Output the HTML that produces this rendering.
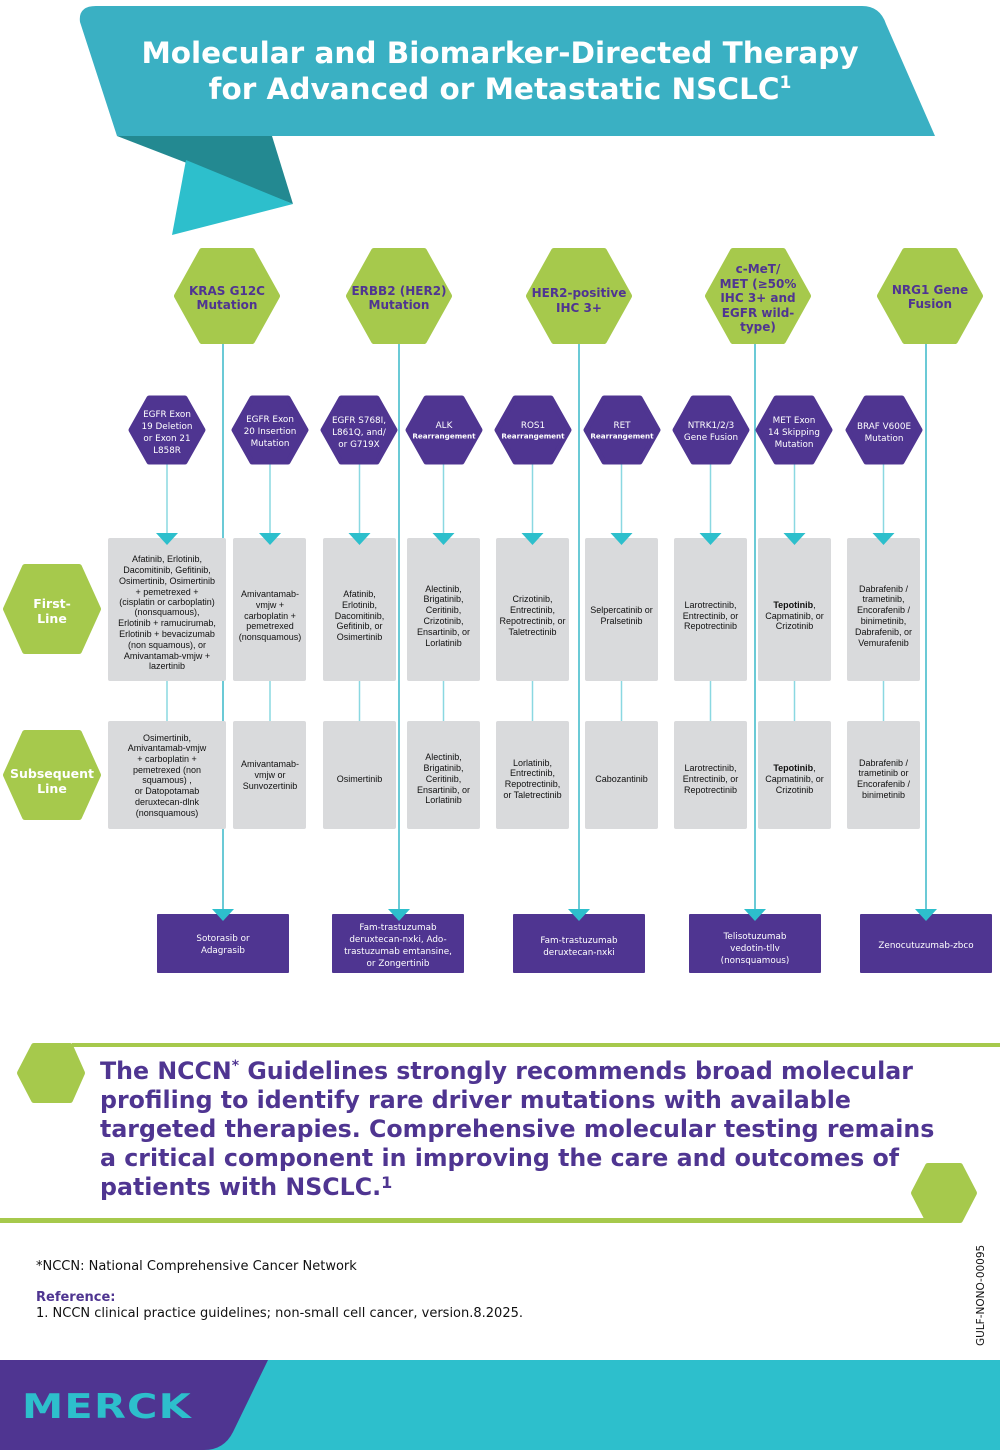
<!DOCTYPE html>
<html><head><meta charset="utf-8"><style>
html,body{margin:0;padding:0;background:#fff;}
svg{display:block;}
.bx{font-family:"Liberation Sans",sans-serif;font-size:9px;fill:#111;text-anchor:middle;}
.ph{font-family:"DejaVu Sans",sans-serif;font-size:8.8px;fill:#fff;text-anchor:middle;}
.phs{font-family:"DejaVu Sans",sans-serif;font-size:7.2px;fill:#fff;text-anchor:middle;font-weight:bold;}
.gh{font-family:"DejaVu Sans",sans-serif;font-size:12px;fill:#4f3591;text-anchor:middle;font-weight:bold;}
.pb{font-family:"DejaVu Sans",sans-serif;font-size:8.8px;fill:#fff;text-anchor:middle;}
.lh{font-family:"DejaVu Sans",sans-serif;font-size:12.5px;fill:#fff;text-anchor:middle;font-weight:bold;}
</style></head><body>
<svg width="1000" height="1450" viewBox="0 0 1000 1450" xmlns="http://www.w3.org/2000/svg">
<path d="M80,22 Q78,6 96,6 L862,6 Q880,6 886,24 L935,136 L117,136 Z" fill="#3ab0c3"/>
<polygon points="117,136 272,136 293,204" fill="#238991"/>
<polygon points="186,160 293,204 172,235" fill="#2dbfcc"/>
<text x="500" y="63" font-family="DejaVu Sans,sans-serif" font-weight="bold" font-size="29.5" fill="#fff" text-anchor="middle">Molecular and Biomarker-Directed Therapy</text>
<text x="500" y="99" font-family="DejaVu Sans,sans-serif" font-weight="bold" font-size="29.5" fill="#fff" text-anchor="middle">for Advanced or Metastatic NSCLC<tspan font-size="17" dy="-11">1</tspan></text>

<g stroke="#3ab8c8" stroke-width="1.5">
<line x1="223" y1="340" x2="223" y2="914"/>
<line x1="399" y1="340" x2="399" y2="914"/>
<line x1="579" y1="340" x2="579" y2="914"/>
<line x1="755" y1="340" x2="755" y2="914"/>
<line x1="926" y1="340" x2="926" y2="914"/>
</g>
<g stroke="#8ad8e1" stroke-width="1.5">
<line x1="167" y1="462" x2="167" y2="721"/>
<line x1="270" y1="462" x2="270" y2="721"/>
<line x1="359.5" y1="462" x2="359.5" y2="721"/>
<line x1="443.5" y1="462" x2="443.5" y2="721"/>
<line x1="532.5" y1="462" x2="532.5" y2="721"/>
<line x1="621.5" y1="462" x2="621.5" y2="721"/>
<line x1="710.5" y1="462" x2="710.5" y2="721"/>
<line x1="794.5" y1="462" x2="794.5" y2="721"/>
<line x1="883.5" y1="462" x2="883.5" y2="721"/>
</g>

<g fill="#a6c94c" stroke="#a6c94c" stroke-width="6" stroke-linejoin="round">
<polygon points="177,296 202,251 252,251 277,296 252,341 202,341"/>
<polygon points="349,296 374,251 424,251 449,296 424,341 374,341"/>
<polygon points="529,296 554,251 604,251 629,296 604,341 554,341"/>
<polygon points="708,296 733,251 783,251 808,296 783,341 733,341"/>
<polygon points="880,296 905,251 955,251 980,296 955,341 905,341"/>
<polygon points="6,609 25,567 79,567 98,609 79,651 25,651"/>
<polygon points="6,775 25,733 79,733 98,775 79,817 25,817"/>
<polygon points="20,1073 34,1046 70,1046 82,1073 70,1100 34,1100"/>
<polygon points="914,1193 928,1166 960,1166 974,1193 960,1220 928,1220"/>
</g>
<text class="gh"><tspan x="227" y="295">KRAS G12C</tspan><tspan x="227" y="309">Mutation</tspan></text>
<text class="gh"><tspan x="399" y="295">ERBB2 (HER2)</tspan><tspan x="399" y="309">Mutation</tspan></text>
<text class="gh"><tspan x="579" y="297">HER2-positive</tspan><tspan x="579" y="312">IHC 3+</tspan></text>
<text class="gh"><tspan x="758" y="273">c-MeT/</tspan><tspan x="758" y="288">MET (≥50%</tspan><tspan x="758" y="302">IHC 3+ and</tspan><tspan x="758" y="317">EGFR wild-</tspan><tspan x="758" y="331">type)</tspan></text>
<text class="gh"><tspan x="930" y="294">NRG1 Gene</tspan><tspan x="930" y="308">Fusion</tspan></text>
<text class="lh"><tspan x="52" y="608">First-</tspan><tspan x="52" y="623">Line</tspan></text>
<text class="lh"><tspan x="52" y="778">Subsequent</tspan><tspan x="52" y="793">Line</tspan></text>

<g fill="#4f3591" stroke="#4f3591" stroke-width="5" stroke-linejoin="round">
<polygon points="131,430 149,398 185,398 203,430 185,462 149,462"/>
<polygon points="234,430 252,398 288,398 306,430 288,462 252,462"/>
<polygon points="323,430 341,398 377,398 395,430 377,462 341,462"/>
<polygon points="408,430 426,398 462,398 480,430 462,462 426,462"/>
<polygon points="497,430 515,398 551,398 569,430 551,462 515,462"/>
<polygon points="586,430 604,398 640,398 658,430 640,462 604,462"/>
<polygon points="675,430 693,398 729,398 747,430 729,462 693,462"/>
<polygon points="758,430 776,398 812,398 830,430 812,462 776,462"/>
<polygon points="848,430 866,398 902,398 920,430 902,462 866,462"/>
</g>
<text class="ph"><tspan x="167" y="417">EGFR Exon</tspan><tspan x="167" y="429">19 Deletion</tspan><tspan x="167" y="441">or Exon 21</tspan><tspan x="167" y="453">L858R</tspan></text>
<text class="ph"><tspan x="270" y="422">EGFR Exon</tspan><tspan x="270" y="434">20 Insertion</tspan><tspan x="270" y="446">Mutation</tspan></text>
<text class="ph"><tspan x="359" y="423">EGFR S768I,</tspan><tspan x="359" y="435">L861Q, and/</tspan><tspan x="359" y="447">or G719X</tspan></text>
<text class="ph" x="444" y="428">ALK</text><text class="phs" x="444" y="438.5">Rearrangement</text>
<text class="ph" x="533" y="428">ROS1</text><text class="phs" x="533" y="438.5">Rearrangement</text>
<text class="ph" x="622" y="428">RET</text><text class="phs" x="622" y="438.5">Rearrangement</text>
<text class="ph"><tspan x="711" y="428">NTRK1/2/3</tspan><tspan x="711" y="440">Gene Fusion</tspan></text>
<text class="ph"><tspan x="794" y="423">MET Exon</tspan><tspan x="794" y="435">14 Skipping</tspan><tspan x="794" y="447">Mutation</tspan></text>
<text class="ph"><tspan x="884" y="429">BRAF V600E</tspan><tspan x="884" y="441">Mutation</tspan></text>

<g fill="#d9dadc">
<rect x="108" y="538" width="118" height="143" rx="2"/>
<rect x="233" y="538" width="73" height="143" rx="2"/>
<rect x="323" y="538" width="73" height="143" rx="2"/>
<rect x="407" y="538" width="73" height="143" rx="2"/>
<rect x="496" y="538" width="73" height="143" rx="2"/>
<rect x="585" y="538" width="73" height="143" rx="2"/>
<rect x="674" y="538" width="73" height="143" rx="2"/>
<rect x="758" y="538" width="73" height="143" rx="2"/>
<rect x="847" y="538" width="73" height="143" rx="2"/>
<rect x="108" y="721" width="118" height="108" rx="2"/>
<rect x="233" y="721" width="73" height="108" rx="2"/>
<rect x="323" y="721" width="73" height="108" rx="2"/>
<rect x="407" y="721" width="73" height="108" rx="2"/>
<rect x="496" y="721" width="73" height="108" rx="2"/>
<rect x="585" y="721" width="73" height="108" rx="2"/>
<rect x="674" y="721" width="73" height="108" rx="2"/>
<rect x="758" y="721" width="73" height="108" rx="2"/>
<rect x="847" y="721" width="73" height="108" rx="2"/>
</g>
<g fill="#2dbfcc">
<polygon points="156,533 178,533 167,545"/>
<polygon points="259,533 281,533 270,545"/>
<polygon points="348.5,533 370.5,533 359.5,545"/>
<polygon points="432.5,533 454.5,533 443.5,545"/>
<polygon points="521.5,533 543.5,533 532.5,545"/>
<polygon points="610.5,533 632.5,533 621.5,545"/>
<polygon points="699.5,533 721.5,533 710.5,545"/>
<polygon points="783.5,533 805.5,533 794.5,545"/>
<polygon points="872.5,533 894.5,533 883.5,545"/>
</g>

<text class="bx"><tspan x="167" y="562">Afatinib, Erlotinib,</tspan><tspan x="167" y="573">Dacomitinib, Gefitinib,</tspan><tspan x="167" y="584">Osimertinib, Osimertinib</tspan><tspan x="167" y="595">+ pemetrexed +</tspan><tspan x="167" y="605">(cisplatin or carboplatin)</tspan><tspan x="167" y="615">(nonsquamous),</tspan><tspan x="167" y="626">Erlotinib + ramucirumab,</tspan><tspan x="167" y="637">Erlotinib +  bevacizumab</tspan><tspan x="167" y="648">(non squamous), or</tspan><tspan x="167" y="659">Amivantamab-vmjw +</tspan><tspan x="167" y="669">lazertinib</tspan></text>
<text class="bx"><tspan x="270" y="597">Amivantamab-</tspan><tspan x="270" y="608">vmjw +</tspan><tspan x="270" y="619">carboplatin +</tspan><tspan x="270" y="629">pemetrexed</tspan><tspan x="270" y="640">(nonsquamous)</tspan></text>
<text class="bx"><tspan x="359.5" y="597">Afatinib,</tspan><tspan x="359.5" y="608">Erlotinib,</tspan><tspan x="359.5" y="619">Dacomitinib,</tspan><tspan x="359.5" y="629">Gefitinib, or</tspan><tspan x="359.5" y="640">Osimertinib</tspan></text>
<text class="bx"><tspan x="443.5" y="592">Alectinib,</tspan><tspan x="443.5" y="602">Brigatinib,</tspan><tspan x="443.5" y="613">Ceritinib,</tspan><tspan x="443.5" y="624">Crizotinib,</tspan><tspan x="443.5" y="635">Ensartinib, or</tspan><tspan x="443.5" y="646">Lorlatinib</tspan></text>
<text class="bx"><tspan x="532.5" y="602">Crizotinib,</tspan><tspan x="532.5" y="613">Entrectinib,</tspan><tspan x="532.5" y="624">Repotrectinib, or</tspan><tspan x="532.5" y="635">Taletrectinib</tspan></text>
<text class="bx"><tspan x="621.5" y="613">Selpercatinib or</tspan><tspan x="621.5" y="624">Pralsetinib</tspan></text>
<text class="bx"><tspan x="710.5" y="608">Larotrectinib,</tspan><tspan x="710.5" y="619">Entrectinib, or</tspan><tspan x="710.5" y="629">Repotrectinib</tspan></text>
<text class="bx"><tspan x="794.5" y="608" font-weight="bold">Tepotinib</tspan><tspan>,</tspan><tspan x="794.5" y="619">Capmatinib, or</tspan><tspan x="794.5" y="629">Crizotinib</tspan></text>
<text class="bx"><tspan x="883.5" y="592">Dabrafenib /</tspan><tspan x="883.5" y="602">trametinib,</tspan><tspan x="883.5" y="613">Encorafenib /</tspan><tspan x="883.5" y="624">binimetinib,</tspan><tspan x="883.5" y="635">Dabrafenib, or</tspan><tspan x="883.5" y="646">Vemurafenib</tspan></text>

<text class="bx"><tspan x="167" y="741">Osimertinib,</tspan><tspan x="167" y="751">Amivantamab-vmjw</tspan><tspan x="167" y="762">+ carboplatin +</tspan><tspan x="167" y="773">pemetrexed (non</tspan><tspan x="167" y="783">squamous) ,</tspan><tspan x="167" y="794">or Datopotamab</tspan><tspan x="167" y="805">deruxtecan-dlnk</tspan><tspan x="167" y="816">(nonsquamous)</tspan></text>
<text class="bx"><tspan x="270" y="767">Amivantamab-</tspan><tspan x="270" y="778">vmjw or</tspan><tspan x="270" y="789">Sunvozertinib</tspan></text>
<text class="bx" x="359.5" y="782">Osimertinib</text>
<text class="bx"><tspan x="443.5" y="760">Alectinib,</tspan><tspan x="443.5" y="771">Brigatinib,</tspan><tspan x="443.5" y="782">Ceritinib,</tspan><tspan x="443.5" y="793">Ensartinib, or</tspan><tspan x="443.5" y="803">Lorlatinib</tspan></text>
<text class="bx"><tspan x="532.5" y="766">Lorlatinib,</tspan><tspan x="532.5" y="776">Entrectinib,</tspan><tspan x="532.5" y="787">Repotrectinib,</tspan><tspan x="532.5" y="798">or Taletrectinib</tspan></text>
<text class="bx" x="621.5" y="782">Cabozantinib</text>
<text class="bx"><tspan x="710.5" y="771">Larotrectinib,</tspan><tspan x="710.5" y="782">Entrectinib, or</tspan><tspan x="710.5" y="793">Repotrectinib</tspan></text>
<text class="bx"><tspan x="794.5" y="771" font-weight="bold">Tepotinib</tspan><tspan>,</tspan><tspan x="794.5" y="782">Capmatinib, or</tspan><tspan x="794.5" y="793">Crizotinib</tspan></text>
<text class="bx"><tspan x="883.5" y="766">Dabrafenib /</tspan><tspan x="883.5" y="776">trametinib or</tspan><tspan x="883.5" y="787">Encorafenib /</tspan><tspan x="883.5" y="798">binimetinib</tspan></text>

<g fill="#4f3591">
<rect x="157" y="914" width="132" height="59" rx="1"/>
<rect x="332" y="914" width="132" height="59" rx="1"/>
<rect x="513" y="914" width="132" height="59" rx="1"/>
<rect x="689" y="914" width="132" height="59" rx="1"/>
<rect x="860" y="914" width="132" height="59" rx="1"/>
</g>
<g fill="#2dbfcc">
<polygon points="212,909 234,909 223,921"/>
<polygon points="388,909 410,909 399,921"/>
<polygon points="568,909 590,909 579,921"/>
<polygon points="744,909 766,909 755,921"/>
<polygon points="915,909 937,909 926,921"/>
</g>
<text class="pb"><tspan x="223" y="941">Sotorasib or</tspan><tspan x="223" y="953">Adagrasib</tspan></text>
<text class="pb"><tspan x="398" y="930">Fam-trastuzumab</tspan><tspan x="398" y="942">deruxtecan-nxki, Ado-</tspan><tspan x="398" y="954">trastuzumab emtansine,</tspan><tspan x="398" y="966">or Zongertinib</tspan></text>
<text class="pb"><tspan x="579" y="943">Fam-trastuzumab</tspan><tspan x="579" y="955">deruxtecan-nxki</tspan></text>
<text class="pb"><tspan x="755" y="939">Telisotuzumab</tspan><tspan x="755" y="951">vedotin-tllv</tspan><tspan x="755" y="963">(nonsquamous)</tspan></text>
<text class="pb" x="926" y="948">Zenocutuzumab-zbco</text>

<rect x="72" y="1043" width="928" height="4" fill="#a6c94c"/>
<rect x="0" y="1218" width="930" height="5" fill="#a6c94c"/>
<g font-family="DejaVu Sans,sans-serif" font-weight="bold" font-size="23.7" fill="#4f3591">
<text x="100" y="1079">The NCCN<tspan font-size="14" dy="-9">*</tspan><tspan dy="9"> Guidelines strongly recommends broad molecular</tspan></text>
<text x="100" y="1108">profiling to identify rare driver mutations with available</text>
<text x="100" y="1137">targeted therapies. Comprehensive molecular testing remains</text>
<text x="100" y="1166">a critical component in improving the care and outcomes of</text>
<text x="100" y="1195">patients with NSCLC.<tspan font-size="16" dy="-7">1</tspan></text>
</g>

<text x="36" y="1270" font-family="DejaVu Sans,sans-serif" font-size="13" fill="#111">*NCCN: National Comprehensive Cancer Network</text>
<text x="36" y="1301" font-family="DejaVu Sans,sans-serif" font-size="13" font-weight="bold" fill="#4f3591">Reference:</text>
<text x="36" y="1317" font-family="DejaVu Sans,sans-serif" font-size="13" fill="#111">1. NCCN clinical practice guidelines; non-small cell cancer, version.8.2025.</text>
<text transform="translate(984,1346) rotate(-90)" font-family="DejaVu Sans,sans-serif" font-size="10.5" fill="#111">GULF-NONO-00095</text>

<rect x="0" y="1360" width="1000" height="90" fill="#2dbfcc"/>
<path d="M0,1360 L268,1360 L233,1432 Q224,1450 204,1450 L0,1450 Z" fill="#4f3591"/>
<text x="22" y="1418" font-family="DejaVu Sans,sans-serif" font-weight="bold" font-size="34" fill="#2dbfcc" letter-spacing="1" textLength="170" lengthAdjust="spacingAndGlyphs">MERCK</text>
</svg>
</body></html>
